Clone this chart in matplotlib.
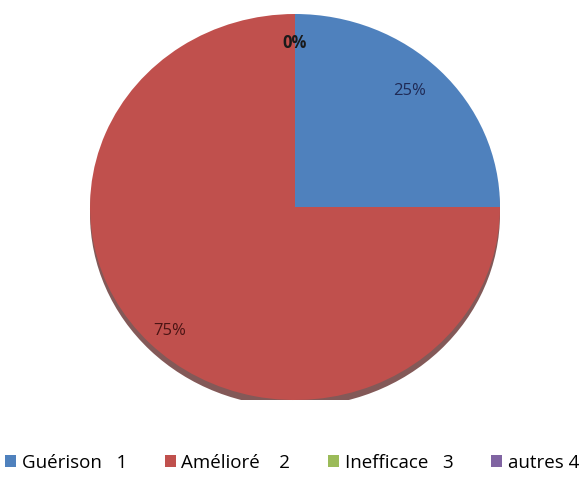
import matplotlib.pyplot as plt
from matplotlib.patches import Ellipse

categories = ["Guérison", "Amélioré", "Inefficace", "autres"]
codes = [1, 2, 3, 4]
values = [25, 75, 0, 0]
colors = ["#4f81bd", "#c0504d", "#9bbb59", "#8064a2"]
label_colors = ["#1f2a55", "#4a1414", "#1a1a1a", "#1a1a1a"]

plt.rcParams["font.family"] = ["Open Sans", "DejaVu Sans"]

fig = plt.figure(figsize=(5.84, 4.94), dpi=100)
ax = fig.add_axes([90 / 584, 94 / 494, 410 / 584, 386 / 494])

# shadow under the pie
ax.add_patch(Ellipse((0.0, -0.035), 2.0, 2.0, facecolor="#5a2220", alpha=0.75,
                     edgecolor="none", zorder=0))

wedges, texts, autotexts = ax.pie(
    values, colors=colors, startangle=90, counterclock=False,
    autopct="%1.0f%%", pctdistance=0.85, radius=1.0,
    wedgeprops=dict(edgecolor="none"), textprops=dict(fontsize=12),
)
for w in wedges:
    w.set_zorder(1)
for t, c in zip(autotexts, label_colors):
    t.set_color(c)
    t.set_zorder(3)
# the two empty slices share one label position
autotexts[3].set_visible(False)
autotexts[2].set_fontweight("bold")
autotexts[0].set_position((0.56, 0.6))
autotexts[1].set_position((-0.61, -0.64))

ax.set_aspect("auto")
ax.set_xlim(-1, 1)
ax.set_ylim(-1, 1)

labels = [f"{c}   {n}" if c != "autres" else f"{c} {n}" for c, n in zip(categories, codes)]
labels[1] = f"{categories[1]}    {codes[1]}"
fig.legend(wedges, labels, loc="center", bbox_to_anchor=(0.5, 0.063),
           ncol=4, frameon=False, fontsize=13.5, handlelength=0.6, handleheight=0.6,
           handletextpad=0.3, columnspacing=2.0)

fig.savefig("out.png", dpi=100)
